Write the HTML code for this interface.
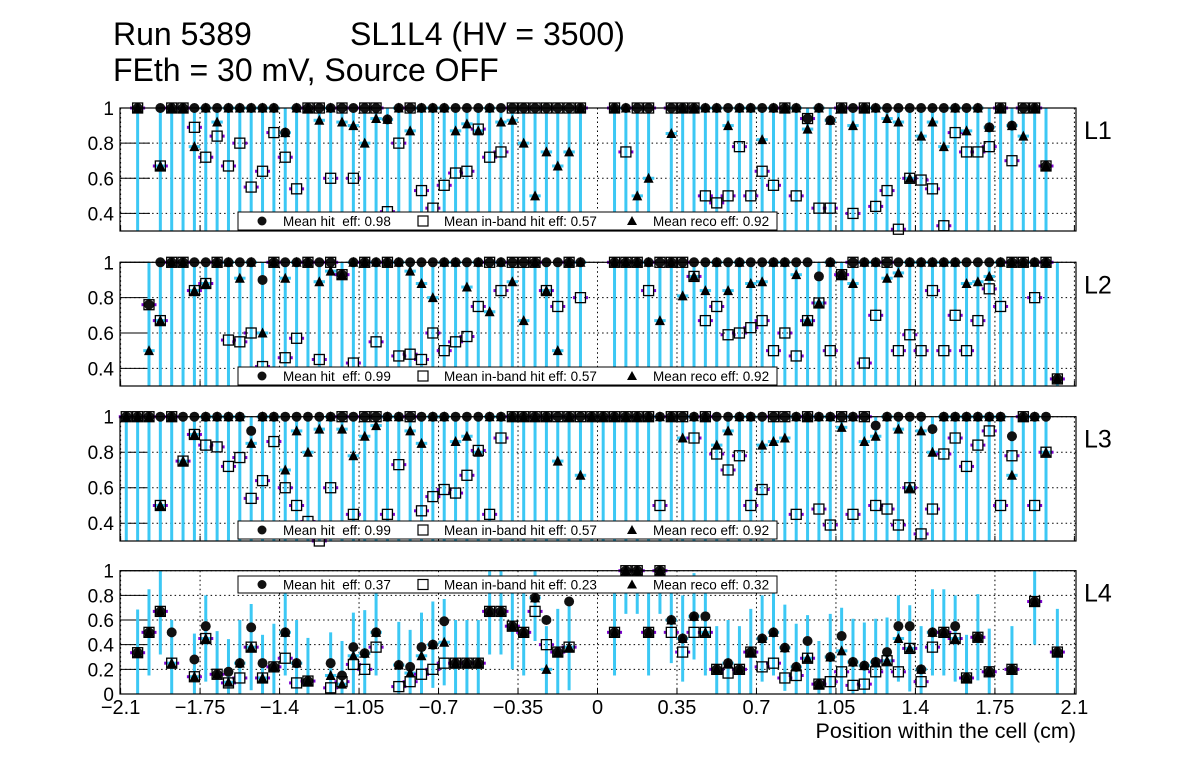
<!DOCTYPE html>
<html><head><meta charset="utf-8"><style>
html,body{margin:0;padding:0;background:#fff;}
svg{display:block;font-family:"Liberation Sans",Arial,sans-serif;}
</style></head><body>
<svg id="c" width="1196" height="772" viewBox="0 0 1196 772" xmlns="http://www.w3.org/2000/svg">
<rect x="0" y="0" width="1196" height="772" fill="#fff"/>
<text x="113" y="45" font-size="32">Run 5389</text>
<text x="350" y="45" font-size="32">SL1L4 (HV = 3500)</text>
<text x="113" y="81" font-size="32">FEth = 30 mV, Source OFF</text>
<text x="1076" y="738" font-size="21.5" text-anchor="end">Position within the cell (cm)</text>
</svg>
<script>
const xTicks = [-2.1,-1.75,-1.4,-1.05,-0.7,-0.35,0,0.35,0.7,1.05,1.4,1.75,2.1];
const xTickLabels = ["\u22122.1","\u22121.75","\u22121.4","\u22121.05","\u22120.7","\u22120.35","0","0.35","0.7","1.05","1.4","1.75","2.1"];
const yTicksHigh = [0.4,0.6,0.8,1];
const yTicksLow = [0,0.2,0.4,0.6,0.8,1];
const panelNames = ["L1","L2","L3","L4"];
const legendHit = ["0.98","0.99","0.99","0.37"];
const legendInb = ["0.57","0.57","0.57","0.23"];
const legendReco = ["0.92","0.92","0.92","0.32"];

const L1X = [-2.025,-1.925,-1.875,-1.825,-1.775,-1.725,-1.675,-1.625,-1.575,-1.525,-1.475,-1.425,-1.375,-1.325,-1.275,-1.225,-1.175,-1.125,-1.075,-1.025,-0.975,-0.925,-0.875,-0.825,-0.775,-0.725,-0.675,-0.625,-0.575,-0.525,-0.475,-0.425,-0.375,-0.325,-0.275,-0.225,-0.175,-0.125,-0.075,0.075,0.125,0.175,0.225,0.325,0.375,0.425,0.475,0.525,0.575,0.625,0.675,0.725,0.775,0.825,0.875,0.925,0.975,1.025,1.075,1.125,1.175,1.225,1.275,1.325,1.375,1.425,1.475,1.525,1.575,1.625,1.675,1.725,1.775,1.825,1.875,1.925,1.975];
const L1Hit = [1,1,1,1,1,1,1,1,1,1,1,1,.86,1,1,1,1,1,1,1,1,.935,1,1,1,1,1,1,1,1,1,1,1,1,1,1,1,1,1,1,1,1,1,1,1,1,1,1,1,1,1,1,1,1,1,.94,1,.93,1,1,1,1,1,1,1,1,1,1,1,1,1,.89,1,.90,1,1,.67];
const L1Inb = [1,.67,1,1,.89,.72,.84,.67,.80,.55,.64,.86,.72,.54,1,1,.60,1,.60,1,1,.41,.80,1,.53,.43,.56,.63,.64,.88,.72,.75,1,1,1,1,1,1,1,1,.75,1,1,1,1,1,.50,.46,.50,.78,.50,.64,.56,1,.50,.94,.43,.43,1,.40,1,.44,.53,.31,.60,.59,.54,.33,.86,.75,.75,.78,1,.70,1,1,.67];
const L1Reco = [1,.67,1,1,.78,1,.92,1,1,1,1,1,.86,1,1,.93,1,.92,.90,.80,.94,.935,1,.87,1,1,1,.87,.91,.87,1,.92,.93,.80,.50,.75,.67,.75,1,1,1,.50,.60,.855,1,1,1,1,.90,1,1,.82,1,1,1,.88,1,.93,1,.90,1,1,.94,.92,.60,.84,.92,.78,1,.87,1,.89,1,.90,.84,1,.67];

const L2X = [-1.975,-1.925,-1.875,-1.825,-1.775,-1.725,-1.675,-1.625,-1.575,-1.525,-1.475,-1.425,-1.375,-1.325,-1.275,-1.225,-1.175,-1.125,-1.075,-1.025,-0.975,-0.925,-0.875,-0.825,-0.775,-0.725,-0.675,-0.625,-0.575,-0.525,-0.475,-0.425,-0.375,-0.325,-0.275,-0.225,-0.175,-0.125,-0.075,0.075,0.125,0.175,0.225,0.275,0.325,0.375,0.425,0.475,0.525,0.575,0.625,0.675,0.725,0.775,0.825,0.875,0.925,0.975,1.025,1.075,1.125,1.175,1.225,1.275,1.325,1.375,1.425,1.475,1.525,1.575,1.625,1.675,1.725,1.775,1.825,1.875,1.925,1.975,2.025];
const L2Hit = [.76,1,1,1,1,1,1,1,1,1,.90,1,1,1,1,1,1,.93,1,1,1,1,1,1,1,1,1,1,1,1,1,1,1,1,1,1,1,1,1,1,1,1,1,1,1,1,1,1,1,1,1,1,1,1,1,1,1,.92,1,.93,1,1,1,1,1,1,1,1,1,1,1,1,1,1,1,1,1,1,.34];
const L2Inb = [.76,.67,1,1,.84,.88,1,.56,.55,.60,.41,1,.46,.57,1,.45,1,.93,.43,1,.55,1,.47,.48,.45,.60,.50,.55,.58,.75,1,.84,1,1,1,.84,.75,1,.80,1,1,1,.84,1,1,1,.92,.67,.75,.59,.60,.63,.67,.50,.60,.47,.67,.77,.50,.93,1,.43,.70,1,.50,.59,.50,.84,.50,.70,.50,.67,.85,.75,1,1,.80,1,.34];
const L2Reco = [.50,.67,1,1,.84,.88,1,1,.91,1,.60,1,.91,1,1,.89,.95,.93,1,1,1,1,1,.95,.88,.80,1,1,.86,1,.72,1,.89,.67,1,.84,.50,1,1,1,1,1,1,.67,1,.81,.92,.84,1,.84,1,.88,.89,1,1,.93,.67,.77,1,.93,.88,1,1,.91,.94,1,1,1,1,1,.88,.89,.92,1,1,1,1,1,.34];

const L3X = [-2.075,-2.025,-1.975,-1.925,-1.875,-1.825,-1.775,-1.725,-1.675,-1.625,-1.575,-1.525,-1.475,-1.425,-1.375,-1.325,-1.275,-1.225,-1.175,-1.125,-1.075,-1.025,-0.975,-0.925,-0.875,-0.825,-0.775,-0.725,-0.675,-0.625,-0.575,-0.525,-0.475,-0.425,-0.375,-0.325,-0.275,-0.225,-0.175,-0.125,-0.075,-0.025,0.025,0.075,0.125,0.175,0.225,0.275,0.325,0.375,0.425,0.475,0.525,0.575,0.625,0.675,0.725,0.775,0.825,0.875,0.925,0.975,1.025,1.075,1.125,1.175,1.225,1.275,1.325,1.375,1.425,1.475,1.525,1.575,1.625,1.675,1.725,1.775,1.825,1.875,1.925,1.975];
const L3Hit = [1,1,1,1,1,1,1,1,1,1,1,.92,1,1,1,1,1,1,1,1,1,1,1,1,1,1,1,1,1,1,1,1,1,1,1,1,1,1,1,1,1,1,1,1,1,1,1,1,1,1,1,1,1,1,1,1,1,1,1,1,1,1,1,1,1,1,.95,1,1,1,1,.93,1,1,1,1,1,1,.89,1,1,1];
const L3Inb = [1,1,1,.50,1,.75,.90,.84,.83,.72,.77,.54,.64,.86,.60,.50,.41,.30,.60,1,.45,1,1,.45,.73,1,.47,.55,.59,.57,.67,.81,.45,.88,1,1,1,1,1,1,1,1,1,1,1,1,1,.50,1,1,.88,1,.79,.70,.78,.50,.59,1,1,.45,1,.48,.39,1,.45,1,.50,.48,.39,.60,.34,.48,.79,.88,.72,.84,.92,.50,.78,1,.50,.80];
const L3Reco = [1,1,1,.50,1,.75,.90,1,1,1,1,.85,1,1,.70,.92,.80,.93,1,.93,.78,.89,.95,1,1,.92,.85,1,1,.86,.89,.80,1,1,1,1,1,1,.75,1,.67,1,1,1,1,1,1,1,1,.88,1,1,.84,.92,1,1,.84,.86,.88,1,1,1,1,.94,1,.86,.89,1,.93,.60,.92,.80,1,1,1,1,1,1,.67,1,1,.80];

const L4X = [-2.025,-1.975,-1.925,-1.875,-1.775,-1.725,-1.675,-1.625,-1.575,-1.525,-1.475,-1.425,-1.375,-1.325,-1.275,-1.175,-1.125,-1.075,-1.025,-0.975,-0.875,-0.825,-0.775,-0.725,-0.675,-0.625,-0.575,-0.525,-0.475,-0.425,-0.375,-0.325,-0.275,-0.225,-0.175,-0.125,0.075,0.125,0.175,0.225,0.275,0.325,0.375,0.425,0.475,0.525,0.575,0.625,0.675,0.725,0.775,0.825,0.875,0.925,0.975,1.025,1.075,1.125,1.175,1.225,1.275,1.325,1.375,1.425,1.475,1.525,1.575,1.625,1.675,1.725,1.825,1.925,2.025];
const L4Hit = [.335,.50,.67,.50,.28,.55,.16,.18,.25,.54,.25,.22,.50,.25,.105,.25,.15,.38,.33,.50,.235,.22,.38,.40,.59,.25,.25,.25,.67,.67,.55,.50,.78,.60,.34,.75,.50,1,1,.50,1,.60,.45,.63,.63,.20,.25,.20,.34,.45,.50,.375,.22,.43,.08,.30,.47,.26,.23,.26,.34,.55,.55,.20,.50,.50,.55,.13,.46,.18,.20,.75,.34];
const L4Inb = [.335,.50,.67,.25,.14,.45,.16,.09,.13,.38,.13,.22,.29,.09,.105,.05,.10,.24,.20,.38,.06,.10,.16,.20,.25,.25,.25,.25,.67,.67,.55,.50,.67,.40,.34,.38,.50,1,1,.50,1,.50,.34,.50,.50,.20,.17,.20,.34,.22,.25,.13,.15,.29,.08,.10,.18,.07,.08,.18,.27,.18,.37,.10,.38,.50,.45,.13,.46,.18,.20,.75,.34];
const L4Reco = [.335,.50,.67,.25,.14,.45,.16,.095,.25,.38,.13,.22,.50,.25,.105,.15,.08,.31,.33,.50,.235,.17,.31,.40,.42,.25,.25,.25,.67,.67,.55,.50,.78,.20,.34,.38,.50,1,1,.50,1,.60,.45,.63,.50,.20,.25,.20,.34,.45,.50,.375,.22,.29,.08,.30,.35,.26,.23,.26,.27,.45,.37,.20,.50,.50,.45,.13,.46,.18,.20,.75,.34];

const NS = "http://www.w3.org/2000/svg";
const svg = document.getElementById('c');
const X0 = 120.6, X1 = 1074.4, XMIN = -2.1, XMAX = 2.1;
function xs(v){ return X0 + (v - XMIN) / (XMAX - XMIN) * (X1 - X0); }
function mk(tag, attrs, parent){
  const e = document.createElementNS(NS, tag);
  for (const k in attrs) e.setAttribute(k, attrs[k]);
  (parent || svg).appendChild(e);
  return e;
}
const panels = [
  {top:108, bot:231, ymin:0.3, ymax:1.0, ticks:yTicksHigh, X:L1X, H:L1Hit, I:L1Inb, R:L1Reco, leg:[212,230], full:true},
  {top:262.3, bot:386, ymin:0.3, ymax:1.0, ticks:yTicksHigh, X:L2X, H:L2Hit, I:L2Inb, R:L2Reco, leg:[367,385], full:true},
  {top:416.7, bot:541, ymin:0.3, ymax:1.0, ticks:yTicksHigh, X:L3X, H:L3Hit, I:L3Inb, R:L3Reco, leg:[521,539], full:true},
  {top:570.7, bot:694, ymin:0.0, ymax:1.0, ticks:yTicksLow, X:L4X, H:L4Hit, I:L4Inb, R:L4Reco, leg:[576,593], full:false}
];
const CYAN = "#3cc8f4", PURPLE = "#7a00d0";
panels.forEach(function(p, pi){
  const g = mk('g', {});
  
  
  function ys(v){ return p.bot - (v - p.ymin) / (p.ymax - p.ymin) * (p.bot - p.top); }
  xTicks.forEach(function(t){
    const l = mk('line', {x1:xs(t), x2:xs(t), y1:p.top, y2:p.bot, stroke:'#000', 'stroke-width':1, 'stroke-dasharray':'1.5,3'}, g);
    
    
  });
  p.ticks.forEach(function(t){
    const l = mk('line', {x1:X0, x2:1076, y1:ys(t), y2:ys(t), stroke:'#000', 'stroke-width':1, 'stroke-dasharray':'1.5,3'}, g);
    
    
    const tk = mk('line', {x1:120, x2:150, y1:ys(t), y2:ys(t), stroke:'#000', 'stroke-width':1}, g);
    
    
    const lb = mk('text', {x:114, y:ys(t)+7, 'font-size':19, 'text-anchor':'end'}, g);
    lb.textContent = (t === 1 ? '1' : (t === 0 ? '0' : String(t)));
    
    
  });
  xTicks.forEach(function(t){
    const tk = mk('line', {x1:xs(t), x2:xs(t), y1:p.bot, y2:p.bot-5, stroke:'#000', 'stroke-width':1}, g);
    
    
  });
  p.X.forEach(function(xv, i){
    const cx = xs(xv);
    let yHi, yLo;
    if (p.full) { yHi = ys(1); yLo = p.bot; }
    else { yHi = ys(Math.min(1, p.R[i] + 0.35)); yLo = ys(Math.max(0, p.R[i] - 0.35)); }
    const b = mk('line', {x1:cx, x2:cx, y1:yHi, y2:yLo, stroke:CYAN, 'stroke-width':3}, g);
    
    
    const hb = mk('line', {x1:cx-5.7, x2:cx+5.7, y1:ys(p.R[i]), y2:ys(p.R[i]), stroke:CYAN, 'stroke-width':3}, g);
    
    
    const iy = ys(p.I[i]);
    const pl = mk('line', {x1:cx-7.5, x2:cx-5, y1:iy, y2:iy, stroke:PURPLE, 'stroke-width':3}, g);
    
    
    const pr = mk('line', {x1:cx+5, x2:cx+7.5, y1:iy, y2:iy, stroke:PURPLE, 'stroke-width':3}, g);
    
    
  });
  p.X.forEach(function(xv, i){
    const cx = xs(xv);
    const c = mk('circle', {cx:cx, cy:ys(p.H[i]), r:5, fill:'#111'}, g);
    
    
    const sy = ys(p.I[i]);
    const s = mk('rect', {x:cx-5, y:sy-5, width:10, height:10, fill:'none', stroke:'#000', 'stroke-width':1.3}, g);
    
    
    const ty = ys(p.R[i]);
    const tr = mk('polygon', {points:(cx-5)+','+(ty+4.5)+' '+(cx+5)+','+(ty+4.5)+' '+cx+','+(ty-5.5), fill:'#000'}, g);
    
    
  });
  const fr = mk('rect', {x:120, y:p.top, width:956, height:p.bot-p.top, fill:'none', stroke:'#000', 'stroke-width':1.2}, g);
  
  
  const lg = mk('g', {}, g);
  
  
  const ly0 = p.leg[0], ly1 = p.leg[1], lym = (ly0 + ly1) / 2;
  mk('rect', {x:238, y:ly0, width:539, height:ly1-ly0, fill:'#fff', stroke:'#000', 'stroke-width':1}, lg);
  mk('circle', {cx:262, cy:lym, r:4.5, fill:'#111'}, lg);
  mk('rect', {x:418, y:lym-5, width:10, height:10, fill:'none', stroke:'#000', 'stroke-width':1.2}, lg);
  mk('polygon', {points:'627,'+(lym+4)+' 637,'+(lym+4)+' 632,'+(lym-5), fill:'#000'}, lg);
  const t1 = mk('text', {x:283, y:lym+5, 'font-size':13.5}, lg);
  t1.textContent = 'Mean hit  eff: ' + legendHit[pi];
  
  
  t1.style.whiteSpace = 'pre';
  const t2 = mk('text', {x:444, y:lym+5, 'font-size':13.5}, lg);
  t2.textContent = 'Mean in-band hit eff: ' + legendInb[pi];
  
  
  const t3 = mk('text', {x:653, y:lym+5, 'font-size':13.5}, lg);
  t3.textContent = 'Mean reco eff: ' + legendReco[pi];
  
  
  const ll = mk('text', {x:1084, y:p.top+31, 'font-size':25}, g);
  ll.textContent = panelNames[pi];
  
  
});
xTicks.forEach(function(t, i){
  const lb = mk('text', {x:xs(t), y:714, 'font-size':20, 'text-anchor':'middle'});
  lb.textContent = xTickLabels[i];
  
  
});
</script>
</body></html>
